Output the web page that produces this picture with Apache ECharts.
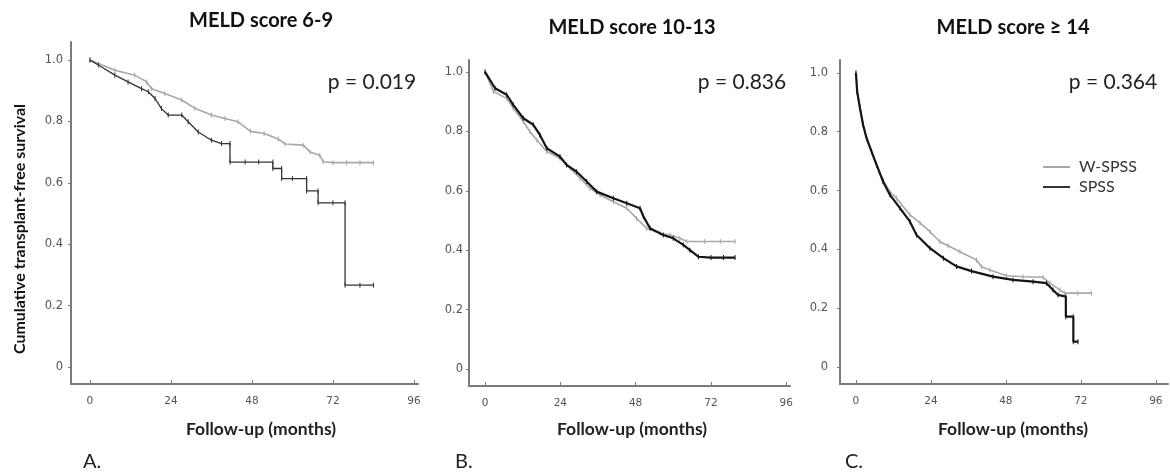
<!DOCTYPE html>
<html>
<head>
<meta charset="utf-8">
<script src="https://cdn.jsdelivr.net/npm/echarts@6/dist/echarts.min.js"></script>
<style>
  html, body { margin: 0; padding: 0; background: #fff; }
  #chart { width: 1170px; height: 476px; }
</style>
</head>
<body>
<div id="chart"></div>
<script>
// tick values shared by the three panels
const xTicks = [0, 24, 48, 72, 96];
const yTicks = [0, 0.2, 0.4, 0.6, 0.8, 1.0];

const panelTitles = ["MELD score 6-9", "MELD score 10-13", "MELD score \u2265 14"];
const pValues = ["p = 0.019", "p = 0.836", "p = 0.364"];
const panelLetters = ["A.", "B.", "C."];
const seriesNames = ["W-SPSS", "SPSS"];

// Kaplan-Meier curves: [month, survival]
// (a repeated month is a vertical drop of the step curve)
const wspssA = [[0,1.0],[7.4,0.967],[13.3,0.951],[16.8,0.929],[18.3,0.907],[22.2,0.891],[27.2,0.870],[31.1,0.843],
  [36.0,0.821],[40.0,0.81],[43.9,0.799],[47.6,0.768],[51.6,0.761],[55.8,0.743],[57.8,0.727],[63.2,0.723],[65.2,0.701],
  [68.1,0.69],[69.1,0.669],[72,0.666],[76,0.666],[80,0.666],[84,0.666]];
const spssA = [[0,1.0],[2.5,0.984],[7.4,0.951],[11.3,0.929],[15.3,0.907],[17.3,0.897],[19.3,0.875],[21.2,0.842],
  [23.2,0.821],[27.2,0.821],[29.1,0.799],[32.1,0.766],[36.0,0.739],[39.0,0.728],[41.5,0.728],[41.5,0.668],[46,0.668],
  [50,0.668],[54.2,0.668],[54.2,0.647],[56.8,0.647],[56.8,0.614],[60,0.614],[64.2,0.614],[64.2,0.574],[67.6,0.574],
  [67.6,0.535],[72,0.535],[75.6,0.535],[75.6,0.267],[80,0.267],[84,0.267]];

const wspssB = [[0,1.0],[2.7,0.934],[6.9,0.911],[9.0,0.878],[12.2,0.833],[14.3,0.799],[16.5,0.771],[19.7,0.732],
  [23.9,0.709],[27.1,0.676],[30.3,0.642],[33.5,0.608],[36.7,0.586],[40.9,0.563],[45.2,0.541],[48.3,0.507],[51.5,0.474],
  [55.8,0.457],[59.0,0.451],[62.1,0.44],[64.3,0.429],[70,0.429],[75,0.429],[79.7,0.429]];
const spssB = [[0,1.0],[3.2,0.945],[6.9,0.923],[9.0,0.889],[12.2,0.844],[15.4,0.822],[17.5,0.788],[19.7,0.743],
  [23.9,0.715],[26.0,0.687],[29.2,0.664],[32.4,0.631],[35.6,0.597],[40.9,0.575],[45.2,0.558],[49.4,0.541],[50.5,0.513],
  [52.6,0.474],[56.8,0.451],[60.0,0.44],[63.2,0.418],[65.3,0.40],[68.0,0.378],[72,0.375],[76,0.375],[79.7,0.375]];

const wspssC = [[0,1.0],[0.4,0.936],[1.3,0.88],[2.3,0.825],[3.4,0.78],[5.0,0.735],[6.6,0.69],[8.7,0.635],[10.9,0.595],
  [13.0,0.574],[17.3,0.517],[20.5,0.49],[23.7,0.46],[26.9,0.426],[29.5,0.412],[33.3,0.392],[38.6,0.364],[40.2,0.341],
  [42.9,0.33],[48.2,0.31],[53.5,0.307],[59.9,0.305],[62.1,0.285],[65.3,0.262],[66.9,0.251],[71,0.251],[75.4,0.251]];
const spssC = [[0,1.0],[0.4,0.936],[1.3,0.88],[2.3,0.823],[3.4,0.778],[5.0,0.732],[6.6,0.687],[8.7,0.63],[10.9,0.585],
  [14.1,0.54],[17.3,0.494],[19.4,0.449],[23.7,0.404],[28,0.37],[32.2,0.342],[37,0.326],[43.9,0.307],[50.3,0.296],
  [56.7,0.29],[61.0,0.285],[63.1,0.262],[64.7,0.245],[67.2,0.239],[67.2,0.171],[69.6,0.171],[69.6,0.086],[71.1,0.086]];

// panel layout (pixels) and axis extents
const panels = [
  { grid: { left: 71, top: 42, width: 347, height: 342 }, x: [-5.6, 97.2], y: [-0.055, 1.059], cx: 261, gray: wspssA, black: spssA, bw: 1.3, bc: "#333", lm: 8 },
  { grid: { left: 469, top: 60, width: 321, height: 326 }, x: [-5.1, 97.2], y: [-0.057, 1.04], cx: 632, gray: wspssB, black: spssB, bw: 2.2, bc: "#151515", lm: 6 },
  { grid: { left: 840, top: 60, width: 328, height: 324 }, x: [-5.1, 99.9], y: [-0.058, 1.044], cx: 1013, gray: wspssC, black: spssC, bw: 2.2, bc: "#151515", lm: 12 }
];
const pPos = [[372, 82], [742, 82], [1113, 82]];
const letterX = [83, 455, 845];

const axisCol = "#7a7a7a";
const grayCol = "#a8a8a8";

const chart = echarts.init(document.getElementById("chart"));

const grids = panels.map(p => Object.assign({ containLabel: false }, p.grid));

const xAxes = panels.map((p, i) => ({
  type: "value", gridIndex: i, min: p.x[0], max: p.x[1],
  axisLine: { onZero: false, lineStyle: { color: axisCol, width: 2 } },
  axisTick: { customValues: xTicks, inside: true, length: 4, lineStyle: { color: axisCol } },
  axisLabel: { customValues: xTicks, margin: 12, color: "#555", fontSize: 10.5, fontFamily: "DejaVu Sans" },
  splitLine: { show: false }
}));

const yAxes = panels.map((p, i) => ({
  type: "value", gridIndex: i, min: p.y[0], max: p.y[1],
  axisLine: { show: true, onZero: false, lineStyle: { color: axisCol, width: 2 } },
  axisTick: { show: true, customValues: yTicks, length: 3, lineStyle: { color: axisCol } },
  axisLabel: {
    customValues: yTicks, margin: p.lm, color: "#555", fontSize: 11.5, fontFamily: "DejaVu Sans",
    formatter: v => (v === 0 ? "0" : v.toFixed(1))
  },
  splitLine: { show: false }
}));

const series = [];
panels.forEach((p, i) => {
  series.push({
    name: seriesNames[0], type: "line", xAxisIndex: i, yAxisIndex: i,
    data: p.gray, symbol: "rect", symbolSize: [1, 5], showSymbol: true,
    itemStyle: { color: grayCol }, lineStyle: { color: grayCol, width: 1.6 },
    animation: false, z: 2
  });
  series.push({
    name: seriesNames[1], type: "line", xAxisIndex: i, yAxisIndex: i,
    data: p.black, symbol: "rect", symbolSize: [1, 5], showSymbol: true,
    itemStyle: { color: p.bc }, lineStyle: { color: p.bc, width: p.bw },
    animation: false, z: 3
  });
});

const texts = [];
panels.forEach((p, i) => {
  texts.push({ type: "text", x: p.cx, y: i === 0 ? 21 : 28,
    style: { text: panelTitles[i], fontFamily: "Lato", fontWeight: "bold", fontSize: 20, fill: "#111", textAlign: "center", textVerticalAlign: "middle" } });
  texts.push({ type: "text", x: pPos[i][0], y: pPos[i][1],
    style: { text: pValues[i], fontFamily: "Lato", fontSize: 21, fill: "#222", textAlign: "center", textVerticalAlign: "middle" } });
  texts.push({ type: "text", x: p.cx, y: 429,
    style: { text: "Follow-up (months)", fontFamily: "Lato", fontWeight: "bold", fontSize: 17.5, fill: "#222", textAlign: "center", textVerticalAlign: "middle" } });
  texts.push({ type: "text", x: letterX[i], y: 462,
    style: { text: panelLetters[i], fontFamily: "Lato", fontSize: 20, fill: "#222", textAlign: "left", textVerticalAlign: "middle" } });
});
texts.push({ type: "text", x: 20, y: 229, rotation: Math.PI / 2,
  style: { text: "Cumulative transplant-free survival", fontFamily: "Lato", fontWeight: "bold", fontSize: 16, fill: "#111", textAlign: "center", textVerticalAlign: "middle" } });

chart.setOption({
  backgroundColor: "#fff",
  animation: false,
  grid: grids,
  xAxis: xAxes,
  yAxis: yAxes,
  legend: {
    data: seriesNames, orient: "vertical", left: 1043, top: 159, itemGap: 4, padding: 0,
    itemWidth: 27, itemHeight: 2, icon: "rect",
    textStyle: { fontFamily: "Lato", fontSize: 16, lineHeight: 16, color: "#333", padding: [0, 0, 0, 4] }
  },
  series: series,
  graphic: texts
});
</script>
</body>
</html>
